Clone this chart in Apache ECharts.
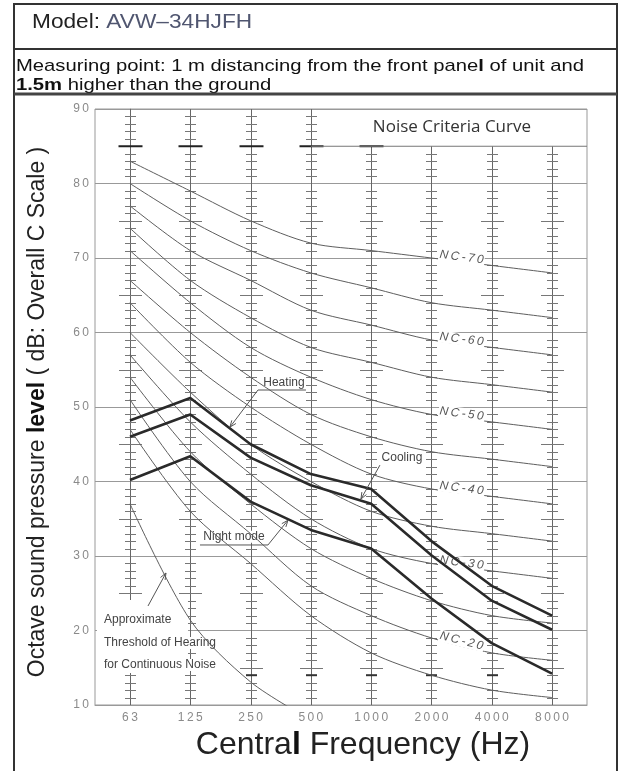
<!DOCTYPE html>
<html><head><meta charset="utf-8">
<script src="https://cdn.jsdelivr.net/npm/echarts@6/dist/echarts.min.js"></script>
<style>html,body{margin:0;padding:0;background:#fff}#c{width:623px;height:771px}</style>
</head><body><div id="c"></div>
<script>
// ---- data ----
const freqLabels = ['63','125','250','500','1000','2000','4000','8000'];
const yTicks = [10,20,30,40,50,60,70,80,90];
const heating   = [48.2, 51.2, 45.0, 41.0, 39.0, 32.0, 26.0, 22.0];
const cooling   = [46.0, 49.0, 43.2, 39.5, 37.0, 30.1, 24.0, 20.1];
const nightMode = [40.2, 43.4, 37.3, 33.5, 31.0, 24.3, 18.3, 14.2];
const threshold = [37.0, 21.4, 13.1, 8.0];
const nc70 = [83,79,75,72,71,70,69,68];
const nc65 = [80,75,71,68,66,64,63,62];
const nc60 = [77,71,67,63,61,59,58,57];
const nc55 = [74,67,62,58,56,54,53,52];
const nc50 = [71,64,58,54,51,49,48,47];
const nc45 = [67,60,54,49,46,44,43,42];
const nc40 = [64,56,50,45,41,39,38,37];
const nc35 = [60,52,45,40,36,34,33,32];
const nc30 = [57,48,41,35,31,29,28,27];
const nc25 = [54,44,37,31,27,24,22,21];
const nc20 = [51,40,33,26,22,19,17,16];
const nc15 = [47,36,29,22,17,14,12,11];
const ncCurves = [['NC-70',nc70,true],['NC-65',nc65,false],['NC-60',nc60,true],['NC-55',nc55,false],
  ['NC-50',nc50,true],['NC-45',nc45,false],['NC-40',nc40,true],['NC-35',nc35,false],
  ['NC-30',nc30,true],['NC-25',nc25,false],['NC-20',nc20,true],['NC-15',nc15,false]];

// ---- chart ----
const X_MIN = -0.58, X_MAX = 7.58;
const spaced = s => String(s).split('').join('\u2009');
const chart = echarts.init(document.getElementById('c'), null, {renderer:'canvas'});
const pair = arr => arr.map((v,i)=>[i,v]);

const series = [];
series.push({
  type:'custom', z:1, silent:true, clip:false,
  data: freqLabels.map((f,i)=>[i]),
  encode:{x:0},
  renderItem:(params, api)=>{
    const i = api.value(0);
    const top = i <= 3 ? 90 : 85;
    const ch = [];
    const b = api.coord([i,10]), t = api.coord([i,top]);
    const x = Math.round(b[0]) + 0.5;
    ch.push({type:'line', shape:{x1:x,y1:b[1],x2:x,y2:t[1]}, style:{stroke:'#666', lineWidth:1}});
    for (let v = 11; v < top; v++) {
      if (v % 10 === 0) continue;
      const p = api.coord([i,v]);
      const hw = v % 5 === 0 ? 11.5 : 5.5;
      const y = Math.round(p[1]) + 0.5;
      ch.push({type:'line', shape:{x1:x-hw,y1:y,x2:x+hw,y2:y}, style:{stroke:'#777', lineWidth:1}});
    }
    if (i <= 4) {
      const p = api.coord([i,85]);
      ch.push({type:'line', shape:{x1:x-12,y1:p[1],x2:x+12,y2:p[1]}, style:{stroke:'#222', lineWidth:2}});
    }
    if (i >= 2 && i <= 6) {
      const p = api.coord([i,14]);
      ch.push({type:'line', shape:{x1:x-5.5,y1:p[1],x2:x+5.5,y2:p[1]}, style:{stroke:'#333', lineWidth:2}});
    }
    return {type:'group', children:ch};
  }
});
ncCurves.forEach(([name, arr])=>{
  series.push({type:'line', name, data:pair(arr), smooth:0.3, symbol:'none', silent:true, z:3,
    lineStyle:{color:'#5e5e5e', width:1}});
});
series.push({type:'line', name:'threshold', data:pair(threshold), smooth:0.3, symbol:'none', silent:true, z:3,
  lineStyle:{color:'#5e5e5e', width:1}});
[['Heating',heating],['Cooling',cooling],['Night mode',nightMode]].forEach(([name,arr])=>{
  series.push({type:'line', name, data:pair(arr), symbol:'none', silent:true, z:6,
    lineStyle:{color:'#2a2a2a', width:2.6}});
});

chart.setOption({
  animation:false,
  backgroundColor:'#fff',
  grid:{left:95, right:36, top:109, bottom:66, show:true, borderColor:'#999', borderWidth:1},
  xAxis:{type:'value', min:X_MIN, max:X_MAX, splitLine:{show:false},
    axisLine:{show:true, lineStyle:{color:'#999'}}, axisTick:{show:false},
    axisLabel:{customValues:freqLabels.map((f,i)=>i), formatter:v=>spaced(freqLabels[Math.round(v)]),
      color:'#8a8a8a', fontSize:12, fontFamily:'Liberation Sans', margin:7}},
  yAxis:{type:'value', min:yTicks[0], max:yTicks[yTicks.length-1], interval:10,
    splitLine:{show:true, lineStyle:{color:'#999', width:1}},
    axisLine:{show:true, lineStyle:{color:'#999'}}, axisTick:{show:true, length:4, lineStyle:{color:'#999'}},
    axisLabel:{formatter:v=>spaced(v), color:'#8a8a8a', fontSize:12, fontFamily:'Liberation Sans', margin:6}},
  series
});

// ---- annotations (positions given in data coordinates) ----
const px = (i,v) => chart.convertToPixel({xAxisIndex:0, yAxisIndex:0}, [i,v]);
const G = [];
const F = 'Liberation Sans';
function txt(p, text, o){
  o = o || {};
  return {type:'text', x:p[0], y:p[1], z:o.z||7, rotation:o.rot||0, scaleX:o.sx||1, scaleY:o.sy||1,
    style:Object.assign({text, x:0, y:0, fill:o.fill||'#444', font:o.font||('12px '+F),
      align:o.align||'center', textAlign:o.align||'center', verticalAlign:'middle', textVerticalAlign:'middle'},
      o.bg?{backgroundColor:'#fff', padding:o.pad||[0,1]}:{}, o.rich?{rich:o.rich}:{})};
}
function seg(a,b,o){ o=o||{}; return {type:'polyline', z:o.z||7, shape:{points:[a,b]}, style:{stroke:o.stroke||'#555', lineWidth:o.w||1, fill:null}}; }
function arrow(a,b,z){
  const ang = Math.atan2(b[1]-a[1], b[0]-a[0]), L=7, w=0.38;
  const p1=[b[0]-L*Math.cos(ang-w), b[1]-L*Math.sin(ang-w)];
  const p2=[b[0]-L*Math.cos(ang+w), b[1]-L*Math.sin(ang+w)];
  return [seg(a,b,{z}), {type:'polyline', z:z||7, shape:{points:[p1,b,p2]}, style:{stroke:'#555', lineWidth:1, fill:null}}];
}

// Noise Criteria Curve header box
const boxL = px(3,85), boxR = px(X_MAX,85);
G.push(seg(boxL, boxR, {stroke:'#777', z:2}));
G.push(txt(px(5.34,87.6), 'Noise Criteria Curve', {font:'17px "Open Sans"', fill:'#333'}));

// NC labels
ncCurves.forEach(([name, arr, lab])=>{
  if(!lab) return;
  const a = px(5,arr[5]), b = px(6,arr[6]);
  const rot = -Math.atan2(b[1]-a[1], b[0]-a[0]);
  const c = px(5.5, (arr[5]+arr[6])/2 + 0.6);
  G.push(txt(c, name.split('').join('\u2009'), {font:'italic 12px '+F, fill:'#555', bg:true, rot, z:4, pad:[0,1]}));
});

// Heating
G.push(txt(px(2.554,53.2), 'Heating', {bg:true, z:2}));
G.push(seg(px(2.123,52.28), px(2.919,52.28), {z:2}));
G.push(...arrow(px(2.123,52.28), px(1.658,47.3)));
// Cooling
G.push(txt(px(4.511,43.15), 'Cooling', {bg:true, z:2}));
G.push(...arrow(px(4.146,42.2), px(3.831,37.65)));
// Night mode
G.push(txt(px(1.725,32.6), 'Night mode', {bg:true, z:2}));
G.push(seg(px(1.161,31.48), px(2.289,31.48), {z:2}));
G.push(...arrow(px(2.289,31.48), px(2.62,34.8)));
// Threshold of hearing note
const r1 = px(-0.547,24.1), r2 = px(0.962,14.3);
G.push({type:'rect', z:2, shape:{x:r1[0], y:r1[1], width:r2[0]-r1[0], height:r2[1]-r1[1]}, style:{fill:'#fff'}});
G.push(txt(px(-0.448,21.41), 'Approximate', {align:'left', bg:true, z:2}));
G.push(txt(px(-0.448,18.32), 'Threshold of Hearing', {align:'left', bg:true, z:2}));
G.push(txt(px(-0.448,15.37), 'for Continuous Noise', {align:'left', bg:true, z:2}));
G.push(...arrow(px(0.299,23.29), px(0.597,27.72)));

// ---- page frame and headers ----
G.push({type:'rect', z:8, shape:{x:14, y:4, width:603, height:790}, style:{fill:null, stroke:'#333', lineWidth:2}});
G.push({type:'line', z:8, shape:{x1:14,y1:49,x2:617,y2:49}, style:{stroke:'#333', lineWidth:2}});
G.push({type:'line', z:8, shape:{x1:14,y1:94,x2:617,y2:94}, style:{stroke:'#444', lineWidth:3}});
G.push(txt([32,22], '{a|Model: }{b|AVW\u201334HJFH}', {align:'left', sx:1.08,
  rich:{a:{fill:'#222', font:'21px '+F}, b:{fill:'#505670', font:'21px '+F}}}));
G.push(txt([16,66], '{a|Measuring point: 1 m distancing from the front pane}{b|l}{a| of unit and}', {align:'left', sx:1.19,
  rich:{a:{fill:'#111', font:'17px '+F}, b:{fill:'#111', font:'bold 17px '+F}}}));
G.push(txt([16,85], '{b|1.5m}{a| higher than the ground}', {align:'left', sx:1.19,
  rich:{a:{fill:'#111', font:'17px '+F}, b:{fill:'#111', font:'bold 17px '+F}}}));
// axis titles
G.push(txt([38,412], '{a|Octave sound pressure }{b|level}{a| ( dB: Overall C Scale )}', {rot:Math.PI/2,
  rich:{a:{fill:'#222', font:'23px '+F}, b:{fill:'#111', font:'bold 23px '+F}}}));
G.push(txt([363,745], '{a|Centra}{b|l}{a| Frequency (Hz)}', {
  rich:{a:{fill:'#222', font:'32px '+F}, b:{fill:'#111', font:'bold 32px '+F}}}));

chart.setOption({graphic:{elements:G}});
</script></body></html>
